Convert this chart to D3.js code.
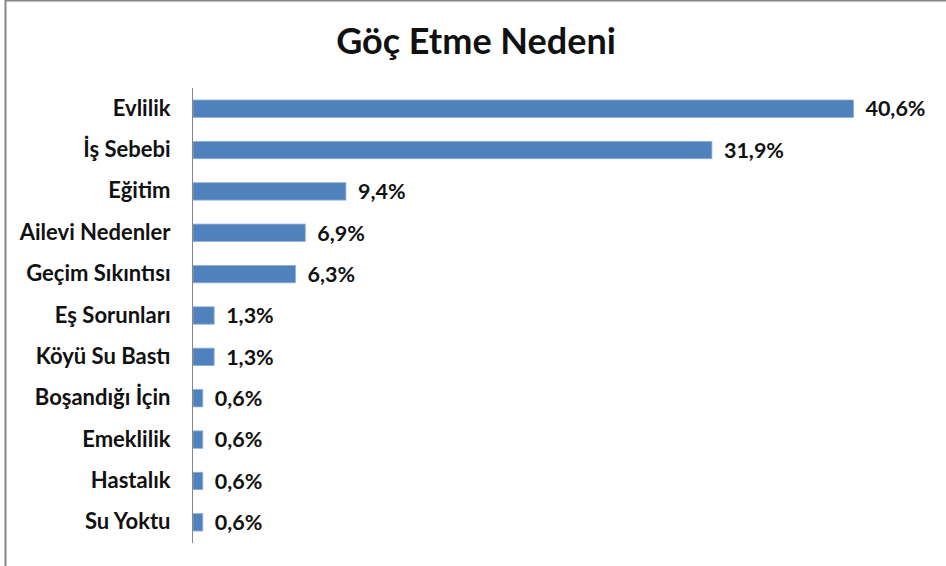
<!DOCTYPE html>
<html>
<head>
<meta charset="utf-8">
<script src="https://cdn.jsdelivr.net/npm/d3@7"></script>
<style>
  body { margin: 0; background: #fff; }
  svg { display: block; font-family: Lato, "Open Sans", sans-serif; }
</style>
</head>
<body>
<div id="chart"></div>
<script>
// Göç etme nedenleri (%)
const categories = ['Evlilik', 'İş Sebebi', 'Eğitim', 'Ailevi Nedenler', 'Geçim Sıkıntısı',
  'Eş Sorunları', 'Köyü Su Bastı', 'Boşandığı İçin', 'Emeklilik', 'Hastalık', 'Su Yoktu'];
const values = [40.6, 31.9, 9.4, 6.9, 6.3, 1.3, 1.3, 0.6, 0.6, 0.6, 0.6];
const title = 'Göç Etme Nedeni';

const width = 946, height = 566;
const margin = { top: 88, right: 21, bottom: 23, left: 193 };

const svg = d3.select('#chart').append('svg')
  .attr('width', width)
  .attr('height', height);

// chart frame
svg.append('rect')
  .attr('x', 5.5).attr('y', 0.5)
  .attr('width', width + 10).attr('height', height + 10)
  .attr('fill', 'none')
  .attr('stroke', '#868686')
  .attr('stroke-width', 2);

svg.append('text')
  .attr('x', 476).attr('y', 54)
  .attr('text-anchor', 'middle')
  .style('font-size', '36px')
  .style('font-weight', 'bold')
  .attr('fill', '#111')
  .text(title);

const x = d3.scaleLinear()
  .domain([0, 45])
  .range([margin.left, width - margin.right]);

const y = d3.scaleBand()
  .domain(categories)
  .range([margin.top, height - margin.bottom])
  .paddingInner(0.58)
  .paddingOuter(0.29);

svg.selectAll('rect.bar')
  .data(values)
  .enter().append('rect')
  .attr('class', 'bar')
  .attr('x', x(0))
  .attr('y', (d, i) => y(categories[i]))
  .attr('width', d => x(d) - x(0))
  .attr('height', y.bandwidth())
  .attr('fill', '#4f81bd')
  .attr('stroke', '#8eaed8')
  .attr('stroke-width', 0.8);

// category axis
const yAxis = svg.append('g')
  .attr('transform', `translate(${margin.left - 0.5},0)`)
  .call(d3.axisLeft(y).tickSize(0).tickPadding(22));
yAxis.select('.domain')
  .attr('stroke', '#868686')
  .attr('d', `M0,${margin.top}V${height - margin.bottom}`);
yAxis.selectAll('text')
  .style('font-family', 'Lato, "Open Sans", sans-serif')
  .style('font-size', '22px')
  .style('font-weight', 'bold')
  .attr('fill', '#111');

svg.selectAll('text.val')
  .data(values)
  .enter().append('text')
  .attr('class', 'val')
  .attr('x', d => x(d) + 12)
  .attr('y', (d, i) => y(categories[i]) + y.bandwidth() / 2)
  .attr('dy', '0.36em')
  .style('font-size', '21.5px')
  .style('font-weight', 'bold')
  .attr('fill', '#111')
  .text(d => d.toFixed(1).replace('.', ',') + '%');
</script>
</body>
</html>
